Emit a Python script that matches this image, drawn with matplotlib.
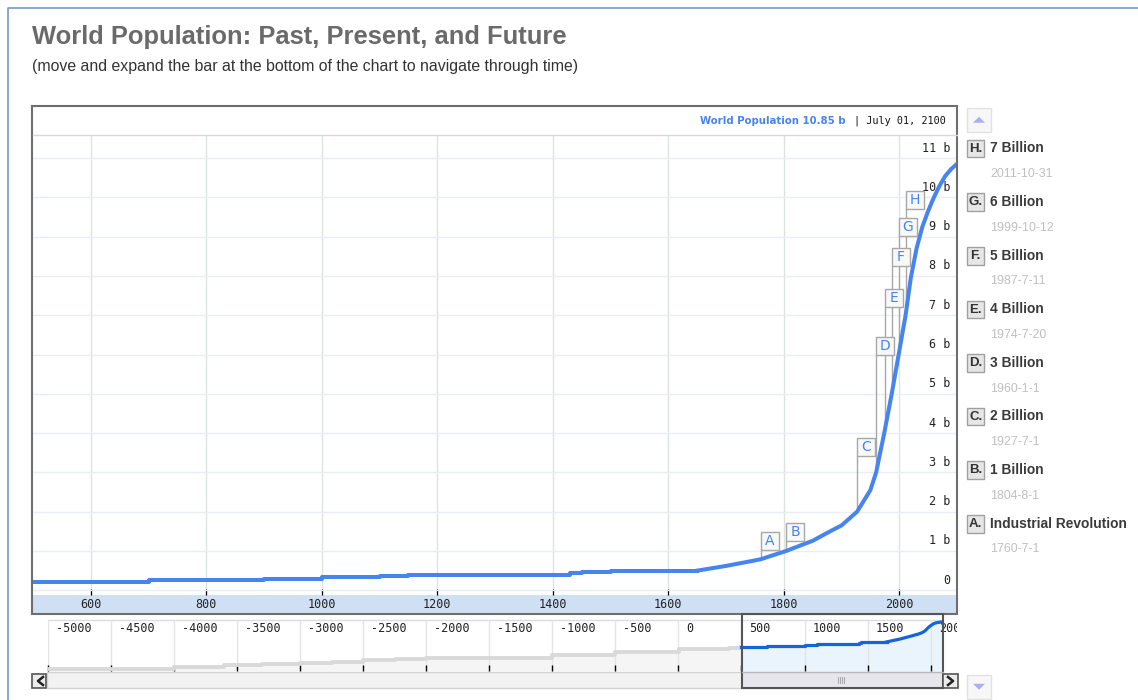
import numpy as np
import matplotlib
matplotlib.use('Agg')
import matplotlib.pyplot as plt
from matplotlib.patches import Rectangle, Polygon
from matplotlib.lines import Line2D
from matplotlib.transforms import IdentityTransform

plt.rcParams["font.family"] = ["Liberation Sans", "DejaVu Sans"]

W, H = 1138, 700
blue = "#4684ee"
mono = "DejaVu Sans Mono"

#%% data (billions of people)
early_years = [500, 700, 900, 1000, 1100, 1150, 1430, 1450, 1500, 1650]
early_pop = [0.22, 0.26, 0.29, 0.33, 0.36, 0.39, 0.43, 0.46, 0.50, 0.50]

modern_years = [1650, 1700, 1750, 1760, 1804, 1850, 1884, 1900, 1927, 1950, 1960, 1974,
                1987, 1999, 2011, 2020, 2030, 2040, 2050, 2060, 2070, 2080, 2090, 2100]
modern_pop = [0.50, 0.62, 0.76, 0.79, 1.00, 1.26, 1.53, 1.65, 2.00, 2.55, 3.00, 4.00,
              5.00, 6.00, 7.00, 7.95, 8.70, 9.25, 9.65, 10.00, 10.30, 10.55, 10.72, 10.85]

# only seen in the navigator strip
ancient_years = [-5000, -4000, -3600, -3300, -3000, -2750, -2500, -2250, -2000, -1000, -500, 1, 400, 500]
ancient_pop = [0.008, 0.011, 0.014, 0.017, 0.021, 0.024, 0.031, 0.037, 0.041, 0.068, 0.11, 0.16, 0.21, 0.22]

flag_letters = ["A", "B", "C", "D", "E", "F", "G", "H"]
flag_titles = ["Industrial Revolution", "1 Billion", "2 Billion", "3 Billion",
               "4 Billion", "5 Billion", "6 Billion", "7 Billion"]
flag_dates = ["1760-7-1", "1804-8-1", "1927-7-1", "1960-1-1",
              "1974-7-20", "1987-7-11", "1999-10-12", "2011-10-31"]
flag_rise = [9, 10, 55, 117, 124, 126, 116, 103]  # px above the curve (layout)

x_ticks = [600, 800, 1000, 1200, 1400, 1600, 1800, 2000]
y_ticks = list(range(12))
y_labels = ["0"] + [f"{v} b" for v in y_ticks[1:]]
nav_ticks = list(range(-5000, 2001, 500))

header_value = f"World Population {modern_pop[-1]:.2f} b"
header_date = "| July 01, 2100"


def decimal_year(s):
    y, m, d = map(int, s.split("-"))
    return y + (m - 1) / 12 + (d - 1) / 365


def px_axes(l, t, r, b, **kw):
    return fig.add_axes([l / W, 1 - b / H, (r - l) / W, (b - t) / H], **kw)


fig = plt.figure(figsize=(W / 100, H / 100), dpi=100)

bg = px_axes(0, 0, W, H, zorder=0)
ov = px_axes(0, 0, W, H, zorder=5)
for a in (bg, ov):
    a.set_xlim(0, W)
    a.set_ylim(H, 0)
    a.axis("off")
    a.set_facecolor("none")

#%% titles
fig.text(31.5 / W, 1 - 37 / H, "World Population: Past, Present, and Future", fontsize=18.4,
         fontweight="bold", color="#6a6a6a", va="center")
fig.text(31.5 / W, 1 - 67 / H, "(move and expand the bar at the bottom of the chart to navigate through time)",
         fontsize=11.4, color="#333333", va="center")

# outer blue frame
ov.plot([8, 8, W], [H, 8, 8], color="#7199d3", lw=1.2)

#%% main chart
bg.add_patch(Rectangle((33, 595), 924, 18.5, facecolor="#cfe0f5", edgecolor="none"))

ax = px_axes(33, 134.5, 957, 595, zorder=2)
ax.set_facecolor("none")
ax.set_xlim(500, 2100)
ax.set_ylim(-(595 - 590.3) / 39.3, (590.3 - 134.5) / 39.3)
for s in ax.spines.values():
    s.set_visible(False)

ax.set_xticks(x_ticks)
ax.set_yticks(y_ticks)
ax.xaxis.grid(True, color="#dde3dd", lw=1)
ax.yaxis.grid(True, color="#e9edf5", lw=1)
ax.set_axisbelow(True)
ax.tick_params(axis="x", direction="in", length=4, width=0.9, color="k", pad=2,
               labelsize=8.5, labelcolor="#222222")
ax.tick_params(axis="y", length=0, labelleft=False)
for lab in ax.get_xticklabels():
    lab.set_fontfamily(mono)

for v, lab in zip(y_ticks, y_labels):
    ax.annotate(lab, xy=(1, v), xycoords=("axes fraction", "data"), xytext=(-7, 10),
                textcoords="offset pixels", ha="right", va="center", fontfamily=mono,
                fontsize=8.5, color="#222222")

ax.plot(early_years, early_pop, drawstyle="steps-post", color=blue, lw=2.9, zorder=3)
ax.plot(modern_years, modern_pop, color=blue, lw=2.9, zorder=3, solid_joinstyle="round")

# flags on the curve
for letter, date, rise in zip(flag_letters, flag_dates, flag_rise):
    yr = decimal_year(date)
    pop = np.interp(yr, modern_years, modern_pop)
    dx, dy = ax.transData.transform((yr, pop))
    ax.add_line(Line2D([dx, dx], [dy, dy + rise], transform=IdentityTransform(),
                       color="#a8a8a8", lw=1, zorder=2.5, clip_on=False))
    ax.add_patch(Rectangle((dx + 1, dy + rise - 1), 18, 18, transform=IdentityTransform(),
                           facecolor="#c8c8c8", edgecolor="none", zorder=3.9, clip_on=False))
    ax.add_patch(Rectangle((dx, dy + rise), 18, 18, transform=IdentityTransform(),
                           facecolor="#f8f8f8", edgecolor="#a8a8a8", lw=1, zorder=4, clip_on=False))
    ax.text(dx + 9, dy + rise + 9, letter, transform=IdentityTransform(), ha="center",
            va="center", color=blue, fontsize=10, fontfamily="DejaVu Sans", zorder=5)

# header strip
ov.text(846, 120.5, header_value, ha="right", va="center", color=blue, fontsize=7.3,
        fontweight="bold", fontfamily="DejaVu Sans")
ov.text(946, 120.5, header_date, ha="right", va="center", color="#111111", fontsize=7.3,
        fontfamily=mono)
ov.plot([33, 957], [134.5, 134.5], color="#d8d8d8", lw=1)
ov.add_patch(Rectangle((32.5, 106), 924.5, 507.5, facecolor="none", edgecolor="#6e6e6e", lw=1.5))

#%% navigator
nav_l, nav_r, nav_t, nav_b = 47.8, 943.3, 620, 671
bg.plot([nav_l, nav_r], [nav_t, nav_t], color="#dcdcdc", lw=1)
bg.add_patch(Rectangle((47, 672), 896, 16, facecolor="#f2f2f2", edgecolor="#d2d2d2", lw=1))

nav = px_axes(nav_l, nav_t, nav_r, nav_b, zorder=2)
nav.set_facecolor("none")
nav.set_xlim(-5000, 2100)
nav.set_yscale("log")
nav.set_ylim(0.0058, 14.5)
for s in nav.spines.values():
    s.set_visible(False)
nav.set_xticks(nav_ticks)
nav.set_yticks([])
nav.minorticks_off()
nav.xaxis.grid(True, color="#e2e6e2", lw=1)
nav.set_axisbelow(False)
nav.tick_params(axis="x", direction="in", length=4, width=1, color="k", labelbottom=False)

nav.fill_between(ancient_years, ancient_pop, 1e-4, step="post", color="#f5f5f5", lw=0, zorder=1)
nav.plot(ancient_years, ancient_pop, drawstyle="steps-post", color="#d9d9d9", lw=2.8, zorder=2.6)
nav.fill_between(early_years, early_pop, 1e-4, step="post", color="#eaf4fd", lw=0, zorder=1)
nav.fill_between(modern_years, modern_pop, 1e-4, color="#eaf4fd", lw=0, zorder=1)
nav.plot(early_years, early_pop, drawstyle="steps-post", color="#1464dc", lw=2.3, zorder=3)
nav.plot(modern_years, modern_pop, color="#1464dc", lw=2.3, zorder=3)

clip = Rectangle((nav_l / W, 0), (957 - nav_l) / W, 1, transform=fig.transFigure)
for t in nav_ticks:
    txt = nav.annotate(str(t), xy=(t, 1), xycoords=("data", "axes fraction"), xytext=(8, -9),
                       textcoords="offset pixels", ha="left", va="center", fontfamily=mono,
                       fontsize=8.5, color="#222222", annotation_clip=False)
    txt.set_clip_path(clip)

# selection window and scroll bar
ov.add_patch(Rectangle((741.7, 672), 201.6, 15.5, facecolor="#e6e6ec", edgecolor="none"))
for gx in (838.5, 840.5, 842.5, 844.5):
    ov.plot([gx, gx], [677, 683], color="#9a9a9a", lw=0.6)
ov.plot([741.7, 943.3], [672, 672], color="#b8b8b8", lw=1)
ov.add_patch(Rectangle((741.7, 613.5), 201.6, 74, facecolor="none", edgecolor="#555555", lw=1.5))

for bx, pts in ((32, [(43, 677), (38, 681), (43, 685)]), (943.3, [(948, 677), (953, 681), (948, 685)])):
    ov.add_patch(Rectangle((bx, 673.5), 14.5, 14, facecolor="#ececec", edgecolor="#555555", lw=1.2))
    ov.plot([p[0] for p in pts], [p[1] for p in pts], color="#222222", lw=1.8)

#%% right side flag list
for by, up in ((108, True), (675, False)):
    ov.add_patch(Rectangle((967.5, by), 24, 23.5, facecolor="#f7f7f7", edgecolor="#e2e2e2", lw=1))
    cy = by + 11.75
    tri = [(973, cy + 3), (985, cy + 3), (979, cy - 3)] if up else [(973, cy - 3), (985, cy - 3), (979, cy + 3)]
    ov.add_patch(Polygon(tri, closed=True, facecolor="#a9aef5", edgecolor="none"))

for i, (letter, title, date) in enumerate(zip(flag_letters[::-1], flag_titles[::-1], flag_dates[::-1])):
    ry = 148.3 + i * 53.6
    ov.add_patch(Rectangle((967, ry - 8.5), 17.5, 17.5, facecolor="#e6e6e6", edgecolor="#a0a0a0", lw=1))
    ov.text(975.7, ry + 0.5, letter + ".", ha="center", va="center", fontsize=9.5,
            fontweight="bold", color="#333333")
    ov.text(990, ry, title, ha="left", va="center", fontsize=9.9, fontweight="bold", color="#3a3a3a")
    ov.text(990, ry + 26, date, ha="left", va="center", fontsize=8.9, color="#c0c0c0")

plt.savefig("out.png", dpi=100)
